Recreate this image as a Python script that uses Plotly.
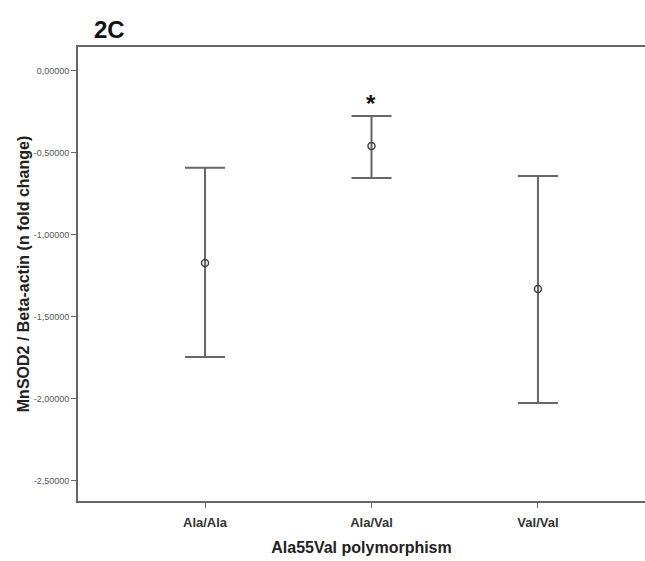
import plotly.graph_objects as go

categories = ["Ala/Ala", "Ala/Val", "Val/Val"]
means = [-1.171, -0.457, -1.329]
upper = [-0.59, -0.274, -0.64]
lower = [-1.744, -0.652, -2.024]
ytick_vals = [0.0, -0.5, -1.0, -1.5, -2.0, -2.5]
ytick_text = ["0,00000", "-0,50000", "-1,00000", "-1,50000", "-2,00000", "-2,50000"]

xpos = list(range(len(categories)))
err_plus = [u - m for u, m in zip(upper, means)]
err_minus = [m - l for m, l in zip(means, lower)]

FONT = "Liberation Sans, Arial, sans-serif"
GRAY = "#666666"

fig = go.Figure()
fig.add_trace(go.Scatter(
    x=xpos, y=means, mode="markers",
    marker=dict(symbol="circle-open", size=7, color="#444444", line=dict(width=1.5)),
    error_y=dict(type="data", symmetric=False, array=err_plus, arrayminus=err_minus,
                 color=GRAY, thickness=2, width=20),
    showlegend=False,
))

fig.add_annotation(x=1, y=upper[1], text="<b>*</b>", showarrow=False,
                   yshift=12, font=dict(family=FONT, size=24, color="#111111"))
fig.add_annotation(xref="paper", yref="paper", x=0.025, y=1.0, xanchor="left", yanchor="bottom",
                   text="<b>2C</b>", showarrow=False, yshift=2,
                   font=dict(family=FONT, size=24, color="#111111"))

fig.update_layout(
    width=645, height=561,
    margin=dict(l=78, r=0, t=47, b=60),
    paper_bgcolor="white", plot_bgcolor="white",
    font=dict(family=FONT),
)
fig.update_xaxes(
    range=[-0.763, 2.643], tickvals=xpos, ticktext=["<b>%s</b>" % c for c in categories],
    showgrid=False, zeroline=False,
    showline=True, linecolor=GRAY, linewidth=2, mirror=True,
    ticks="outside", ticklen=5, tickcolor=GRAY, ticklabelstandoff=3,
    tickfont=dict(family=FONT, size=13, color="#333333"),
    title=dict(text="<b>Ala55Val polymorphism</b>", font=dict(family=FONT, size=16, color="#222222"), standoff=13),
)
fig.update_yaxes(
    range=[-2.622, 0.146], tickvals=ytick_vals, ticktext=ytick_text,
    showgrid=False, zeroline=False,
    showline=True, linecolor=GRAY, linewidth=2, mirror=False,
    ticks="outside", ticklen=5, tickcolor=GRAY,
    tickfont=dict(family=FONT, size=9, color="#555555"),
    title=dict(text="<b>MnSOD2 / Beta-actin (n fold change)</b>", font=dict(family=FONT, size=16, color="#222222"), standoff=0),
)

fig.write_html("out.html")
